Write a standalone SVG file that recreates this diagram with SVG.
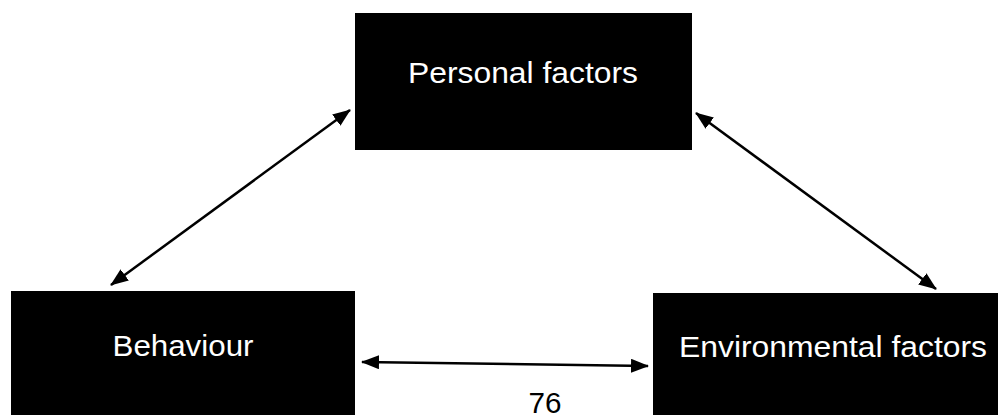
<svg xmlns="http://www.w3.org/2000/svg" width="998" height="415" viewBox="0 0 998 415">
<style>
.box{fill:#000}
.lbl{fill:#fff;font-family:"Liberation Sans",Arial,sans-serif;font-size:29px;text-anchor:middle}
.con{stroke:#000;stroke-width:2.5;fill:none;marker-start:url(#ah);marker-end:url(#ah)}
.num{fill:#000;font-family:"Liberation Sans",Arial,sans-serif;font-size:29px;text-anchor:middle}
</style>
<defs>
<marker id="ah" viewBox="0 0 18 14" refX="17" refY="7" markerWidth="18" markerHeight="14" markerUnits="userSpaceOnUse" orient="auto-start-reverse">
<path d="M0,0 L18,7 L0,14 z" fill="#000"/>
</marker>
</defs>
<rect width="998" height="415" fill="#fff"/>
<g id="personal">
<rect class="box" x="355" y="13" width="337" height="137"/>
<text class="lbl" x="523" y="83" textLength="230" lengthAdjust="spacingAndGlyphs">Personal factors</text>
</g>
<g id="behaviour">
<rect class="box" x="11" y="291" width="344" height="130"/>
<text class="lbl" x="183" y="356" textLength="141" lengthAdjust="spacingAndGlyphs">Behaviour</text>
</g>
<g id="environmental">
<rect class="box" x="653" y="293" width="360" height="130"/>
<text class="lbl" x="833" y="357" textLength="308" lengthAdjust="spacingAndGlyphs">Environmental factors</text>
</g>
<g id="connectors">
<line class="con" x1="111" y1="285" x2="350" y2="110"/>
<line class="con" x1="696" y1="113" x2="936" y2="289"/>
<line class="con" x1="362" y1="362" x2="648" y2="366"/>
</g>
<text class="num" x="545" y="413" textLength="33" lengthAdjust="spacingAndGlyphs">76</text>
</svg>
